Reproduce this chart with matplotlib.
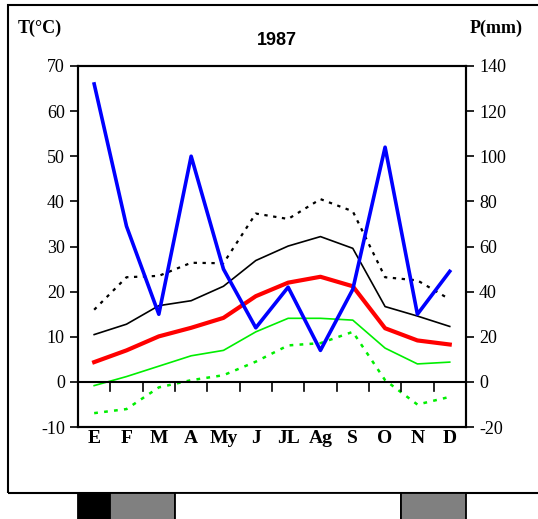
import matplotlib
matplotlib.use("Agg")
import matplotlib.pyplot as plt
import matplotlib.patches as mpatches
import matplotlib.transforms as mtransforms

plt.rcParams["axes.unicode_minus"] = False

months = ["E", "F", "M", "A", "My", "J", "JL", "Ag", "S", "O", "N", "D"]

t_abs_max = [16.0, 23.2, 23.5, 26.4, 26.3, 37.3, 36.1, 40.5, 37.8, 23.2, 22.5, 18.3]
t_max = [10.5, 12.8, 16.9, 18.0, 21.2, 26.9, 30.1, 32.2, 29.6, 16.7, 14.6, 12.3]
t_mean = [4.4, 7.0, 10.1, 12.0, 14.2, 19.0, 22.0, 23.3, 21.2, 11.9, 9.2, 8.3]
t_min = [-0.8, 1.2, 3.5, 5.8, 7.0, 11.1, 14.1, 14.1, 13.7, 7.5, 4.0, 4.4]
t_abs_min = [-6.9, -6.0, -1.2, 0.4, 1.5, 4.5, 8.1, 8.6, 11.1, 0.4, -5.0, -3.3]
precip = [132, 69, 30, 100, 50, 24, 42, 14, 41, 104, 30, 49]

# season bar under the chart: month ranges and fill colours
season_start = [0, 1, 3, 10]
season_end = [1, 3, 10, 12]
season_color = ["black", "#808080", "white", "#808080"]

fig = plt.figure(figsize=(5.38, 5.19), dpi=100)
ax = fig.add_axes([0.145, 0.177, 0.721, 0.696])
ax2 = ax.twinx()

x = list(range(12))
ax.plot(x, t_abs_max, color="black", lw=1.6, ls=(0, (1.5, 2.5)))
ax.plot(x, t_max, color="black", lw=1.2)
ax.plot(x, t_mean, color="red", lw=3.0)
ax.plot(x, t_min, color="#00ee00", lw=1.2)
ax.plot(x, t_abs_min, color="#00ee00", lw=1.8, ls=(0, (1.5, 2.5)))
ax.axhline(0, color="black", lw=1.5)
ax2.plot(x, precip, color="#0000ff", lw=2.6)

ax.set_xlim(-0.5, 11.5)
ax.set_ylim(-10, 70)
ax2.set_ylim(-20, 140)
ax.set_yticks(range(-10, 71, 10))
ax2.set_yticks(range(-20, 141, 20))

serif = "Liberation Serif"
for a in (ax, ax2):
    a.tick_params(axis="y", direction="out", length=6, width=1.2, labelsize=13)
    for lab in a.get_yticklabels():
        lab.set_fontfamily(serif)
    for s in a.spines.values():
        s.set_linewidth(1.5)

# month ticks on the zero line, labels below the axes
ax.set_xticks([])
for i in range(1, 12):
    ax.plot([i - 0.5, i - 0.5], [0, -2], color="black", lw=1.2, clip_on=False)
for i, m in enumerate(months):
    ax.text(i, -12.6, m, ha="center", va="center", fontfamily=serif,
            fontweight="bold", fontsize=14)

fig.text(0.515, 0.922, "1987", ha="center", va="center",
         fontfamily="Liberation Sans", fontweight="bold", fontsize=13)
fig.text(0.033, 0.946, "T(°C)", ha="left", va="center",
         fontfamily=serif, fontweight="bold", fontsize=13)
fig.text(0.873, 0.946, "P(mm)", ha="left", va="center",
         fontfamily=serif, fontweight="bold", fontsize=13)

# outer frame
fig.patches.append(mpatches.Rectangle((0.015, 0.050), 1.2, 0.940,
                                      transform=fig.transFigure, fill=False,
                                      lw=1.5, ec="black"))

# season bar
trans = mtransforms.blended_transform_factory(ax.transData, fig.transFigure)
for s0, s1, c in zip(season_start, season_end, season_color):
    fig.patches.append(mpatches.Rectangle((s0 - 0.5, -0.02), s1 - s0, 0.071,
                                          transform=trans, fc=c, ec="black",
                                          lw=1.3))

fig.savefig("out.png", dpi=100)
